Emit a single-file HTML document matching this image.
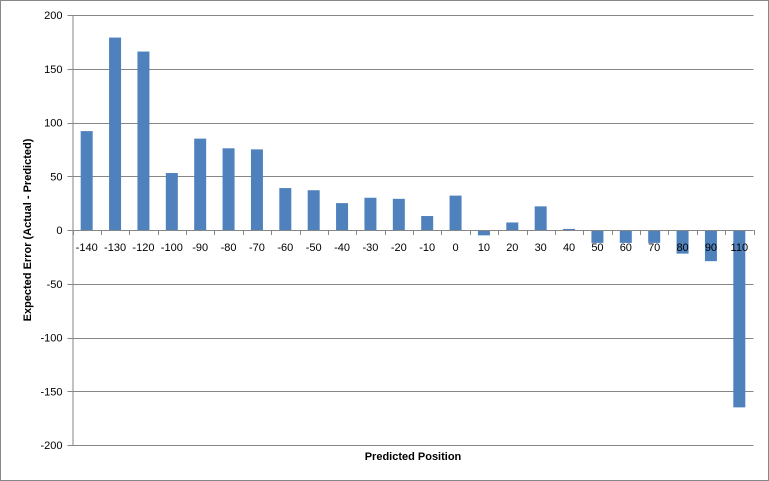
<!DOCTYPE html>
<html><head><meta charset="utf-8"><style>
body{margin:0;background:#fff;}
svg{display:block;font-family:"Liberation Sans",sans-serif;}
</style></head><body>
<svg id="c" width="769" height="481">
<rect x="0.5" y="0.5" width="768" height="480" fill="#fff" stroke="#888"/>
</svg>
<script>
const categories=[-140,-130,-120,-100,-90,-80,-70,-60,-50,-40,-30,-20,-10,0,10,20,30,40,50,60,70,80,90,110];
const values=[92,179,166,53,85,76,75,39,37,25,30,29,13,32,-5,7,22,1,-12,-12,-12,-22,-29,-165];
const yTicks=[200,150,100,50,0,-50,-100,-150,-200];
const svg=document.getElementById('c');const NS='http://www.w3.org/2000/svg';
const L=72.5,R=753.5,T=15,B=445;
const y=v=>T+(200-v)/400*(B-T);
const step=(R-L)/categories.length;
const x=i=>L+step*(i+0.5);
function mk(t,a){const e=document.createElementNS(NS,t);for(const k in a)e.setAttribute(k,a[k]);svg.appendChild(e);return e;}
yTicks.forEach(v=>{
 const g=mk('line',{x1:L-5,x2:R,y1:Math.round(y(v))+.5,y2:Math.round(y(v))+.5,stroke:'#868686'});
 
 
 const t=mk('text',{x:L-10,y:y(v)+4,'text-anchor':'end','font-size':11,fill:'#000'});t.textContent=v;
 
 
});
const ya=mk('line',{x1:L+.5,x2:L+.5,y1:T,y2:B,stroke:'#868686'});


values.forEach((v,i)=>{
 const y0=y(0),y1=y(v);
 const r=mk('rect',{x:x(i)-6,y:Math.min(y0,y1),width:12,height:Math.abs(y1-y0),fill:'#4f81bd'});
 
 
});
const xa=mk('line',{x1:L,x2:R,y1:Math.round(y(0))+.5,y2:Math.round(y(0))+.5,stroke:'#868686'});


for(let i=0;i<=categories.length;i++){
 const tk=mk('line',{x1:Math.round(L+step*i)+.5,x2:Math.round(L+step*i)+.5,y1:y(0),y2:y(0)+5,stroke:'#868686'});
 
 
}
categories.forEach((c,i)=>{
 const t=mk('text',{x:x(i),y:y(0)+21,'text-anchor':'middle','font-size':11,fill:'#000'});t.textContent=c;
 
 
});
const xt=mk('text',{x:413,y:460,'text-anchor':'middle','font-size':11,'font-weight':'bold'});xt.textContent='Predicted Position';


const yt=mk('text',{x:0,y:0,'text-anchor':'middle','font-size':11,'font-weight':'bold',transform:'translate(31,230) rotate(-90)'});yt.textContent='Expected Error (Actual - Predicted)';


</script>
</body></html>
